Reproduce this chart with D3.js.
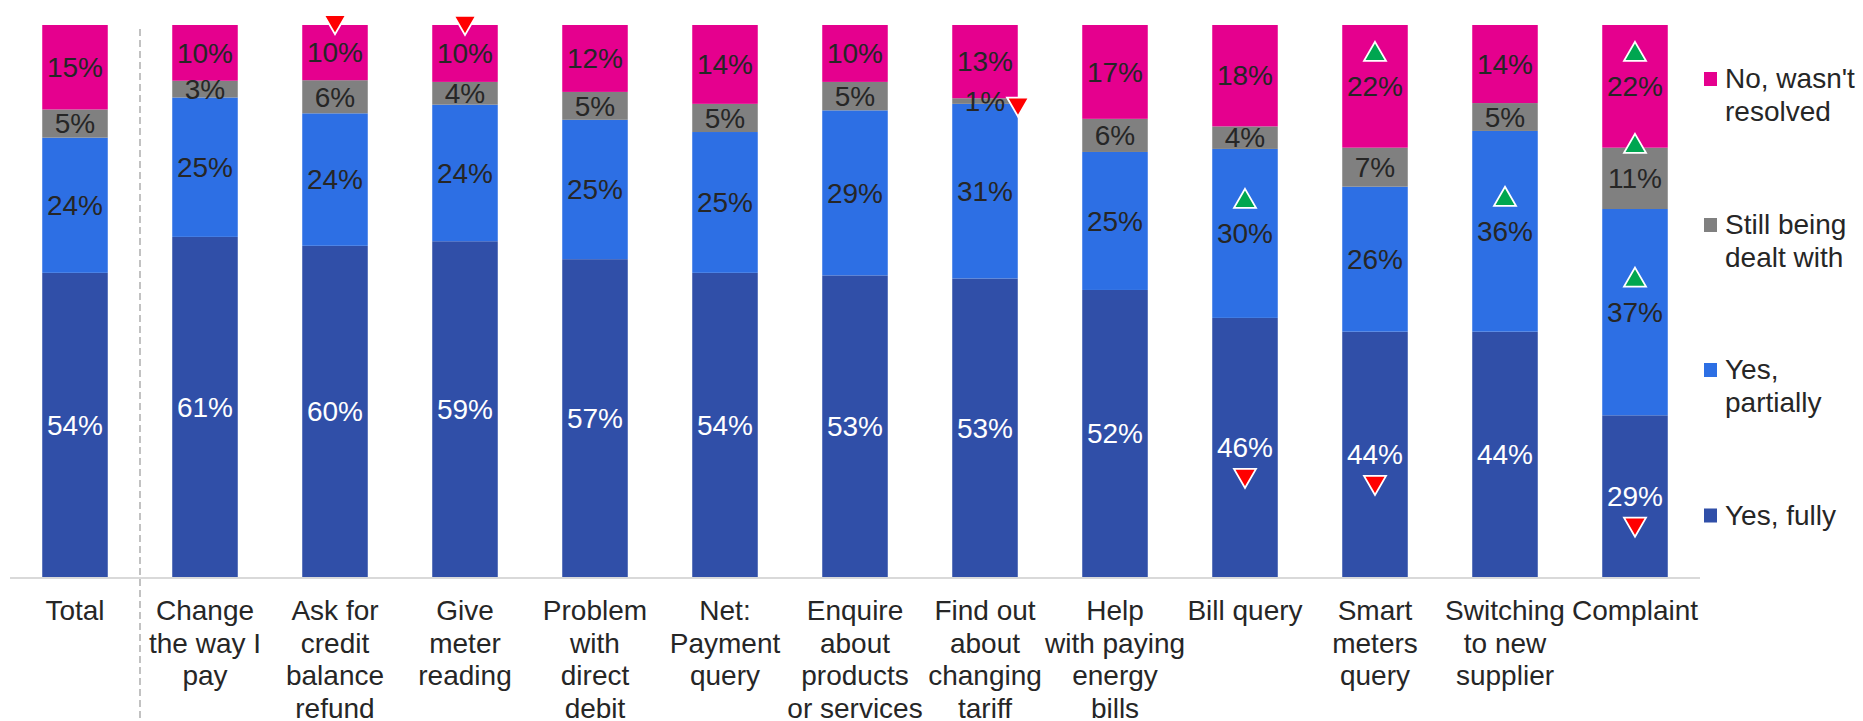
<!DOCTYPE html>
<html>
<head>
<meta charset="utf-8">
<script src="https://cdn.jsdelivr.net/npm/d3@7"></script>
<style>
  html, body { margin: 0; padding: 0; background: #ffffff; }
  svg { display: block; }
  text { font-family: "Liberation Sans", Arial, sans-serif; }
</style>
</head>
<body>
<svg id="chart" width="1863" height="721"></svg>
<script>
// Contact outcome by reason for contact (100% stacked)
const categories = [
  "Total", "Change the way I pay", "Ask for credit balance refund", "Give meter reading",
  "Problem with direct debit", "Net: Payment query", "Enquire about products or services",
  "Find out about changing tariff", "Help with paying energy bills", "Bill query",
  "Smart meters query", "Switching to new supplier", "Complaint"
];
const tickLines = [
  ["Total"], ["Change", "the way I", "pay"], ["Ask for", "credit", "balance", "refund"],
  ["Give", "meter", "reading"], ["Problem", "with", "direct", "debit"],
  ["Net:", "Payment", "query"], ["Enquire", "about", "products", "or services"],
  ["Find out", "about", "changing", "tariff"], ["Help", "with paying", "energy", "bills"],
  ["Bill query"], ["Smart", "meters", "query"], ["Switching", "to new", "supplier"], ["Complaint"]
];

const seriesKeys = ["fully", "partially", "still", "no"];
const seriesNames = ["Yes, fully", "Yes, partially", "Still being dealt with", "No, wasn't resolved"];
const legendLines = [["Yes, fully"], ["Yes,", "partially"], ["Still being", "dealt with"], ["No, wasn't", "resolved"]];
const seriesColors = ["#304fa8", "#2d6fe4", "#808080", "#e5008e"];
const labelColors = ["#ffffff", "#262626", "#262626", "#262626"];

const yesFully     = [54, 61, 60, 59, 57, 54, 53, 53, 52, 46, 44, 44, 29];
const yesPartially = [24, 25, 24, 24, 25, 25, 29, 31, 25, 30, 26, 36, 37];
const stillBeing   = [5, 3, 6, 4, 5, 5, 5, 1, 6, 4, 7, 5, 11];
const notResolved  = [15, 10, 10, 10, 12, 14, 10, 13, 17, 18, 22, 14, 22];

// Significance markers vs. Total: up = significantly higher, down = significantly lower
const markers = [
  { cat: "Ask for credit balance refund", key: "no", dir: "down", place: "top" },
  { cat: "Give meter reading", key: "no", dir: "down", place: "top" },
  { cat: "Find out about changing tariff", key: "still", dir: "down", place: "right" },
  { cat: "Bill query", key: "partially", dir: "up", place: "above" },
  { cat: "Bill query", key: "fully", dir: "down", place: "below" },
  { cat: "Smart meters query", key: "no", dir: "up", place: "above" },
  { cat: "Smart meters query", key: "fully", dir: "down", place: "below" },
  { cat: "Switching to new supplier", key: "partially", dir: "up", place: "above" },
  { cat: "Complaint", key: "no", dir: "up", place: "above" },
  { cat: "Complaint", key: "still", dir: "up", place: "above" },
  { cat: "Complaint", key: "partially", dir: "up", place: "above" },
  { cat: "Complaint", key: "fully", dir: "down", place: "below" }
];

const rows = categories.map((c, i) => ({
  cat: c, fully: yesFully[i], partially: yesPartially[i], still: stillBeing[i], no: notResolved[i]
}));

const svg = d3.select("#chart");
const fontSize = 28;
const lineH = 32.5;

const x = d3.scaleBand().domain(categories).range([10, 1700]).paddingInner(0.496).paddingOuter(0.248);
const y = d3.scaleLinear().domain([0, 1]).range([577, 25]);

const stack = d3.stack().keys(seriesKeys).offset(d3.stackOffsetExpand);
const stacked = stack(rows);

// Bars
const layers = svg.append("g").selectAll("g").data(stacked).join("g")
  .attr("fill", (d, i) => seriesColors[i]);
layers.selectAll("rect").data(d => d).join("rect")
  .attr("x", d => x(d.data.cat))
  .attr("width", x.bandwidth())
  .attr("y", d => y(d[1]))
  .attr("height", d => y(d[0]) - y(d[1]));

// Baseline
svg.append("line")
  .attr("x1", 10).attr("x2", 1700)
  .attr("y1", y(0) + 1).attr("y2", y(0) + 1)
  .attr("stroke", "#d9d9d9").attr("stroke-width", 2);

// Separator between Total and the breakdown
const sepX = (x("Total") + x.bandwidth() + x(categories[1])) / 2;
svg.append("line")
  .attr("x1", sepX).attr("x2", sepX)
  .attr("y1", 29).attr("y2", 721)
  .attr("stroke", "#999999").attr("stroke-width", 1.2)
  .attr("stroke-dasharray", "7,4");

// Value labels
const labelY = d => (y(d[0]) + y(d[1])) / 2;
const labelLayer = svg.append("g").attr("font-size", fontSize).attr("text-anchor", "middle");
stacked.forEach((layer, si) => {
  labelLayer.append("g").attr("fill", labelColors[si])
    .selectAll("text").data(layer).join("text")
    .attr("x", d => x(d.data.cat) + x.bandwidth() / 2)
    .attr("y", d => labelY(d))
    .attr("dy", "0.35em")
    .text(d => d.data[layer.key] + "%");
});

// Significance triangles
const triW = 22, triH = 19;
const offsets = { top: -28, above: -35, below: 31, right: 6 };
const markG = svg.append("g");
markers.forEach(m => {
  const layer = stacked[seriesKeys.indexOf(m.key)];
  const d = layer[categories.indexOf(m.cat)];
  let cx = x(m.cat) + x.bandwidth() / 2;
  let cy = labelY(d) + offsets[m.place];
  if (m.place === "right") cx += 33;
  const pts = m.dir === "up"
    ? [[cx, cy - triH / 2], [cx + triW / 2, cy + triH / 2], [cx - triW / 2, cy + triH / 2]]
    : [[cx - triW / 2, cy - triH / 2], [cx + triW / 2, cy - triH / 2], [cx, cy + triH / 2]];
  markG.append("path")
    .attr("d", d3.line()(pts) + "Z")
    .attr("fill", m.dir === "up" ? "#00a650" : "#ff0000")
    .attr("stroke", "#ffffff").attr("stroke-width", 1.8)
    .attr("stroke-linejoin", "miter");
});

// Category labels
const tickG = svg.append("g").attr("font-size", fontSize).attr("fill", "#262626").attr("text-anchor", "middle");
categories.forEach((c, i) => {
  const t = tickG.append("text").attr("x", x(c) + x.bandwidth() / 2).attr("y", 620);
  tickLines[i].forEach((ln, j) => {
    t.append("tspan").attr("x", x(c) + x.bandwidth() / 2).attr("y", 620 + j * lineH).text(ln);
  });
});

// Legend (top to bottom: No, Still, Partially, Fully)
const legendOrder = [3, 2, 1, 0];
const legendCenters = [79, 225, 370, 515.5];
const legG = svg.append("g").attr("font-size", fontSize).attr("fill", "#262626");
legendOrder.forEach((si, k) => {
  const cy = legendCenters[k];
  legG.append("rect").attr("x", 1704).attr("y", cy - 7).attr("width", 13).attr("height", 14)
    .attr("fill", seriesColors[si]);
  const t = legG.append("text");
  legendLines[si].forEach((ln, j) => {
    t.append("tspan").attr("x", 1725).attr("y", cy + 9 + j * lineH).text(ln);
  });
});
</script>
</body>
</html>
